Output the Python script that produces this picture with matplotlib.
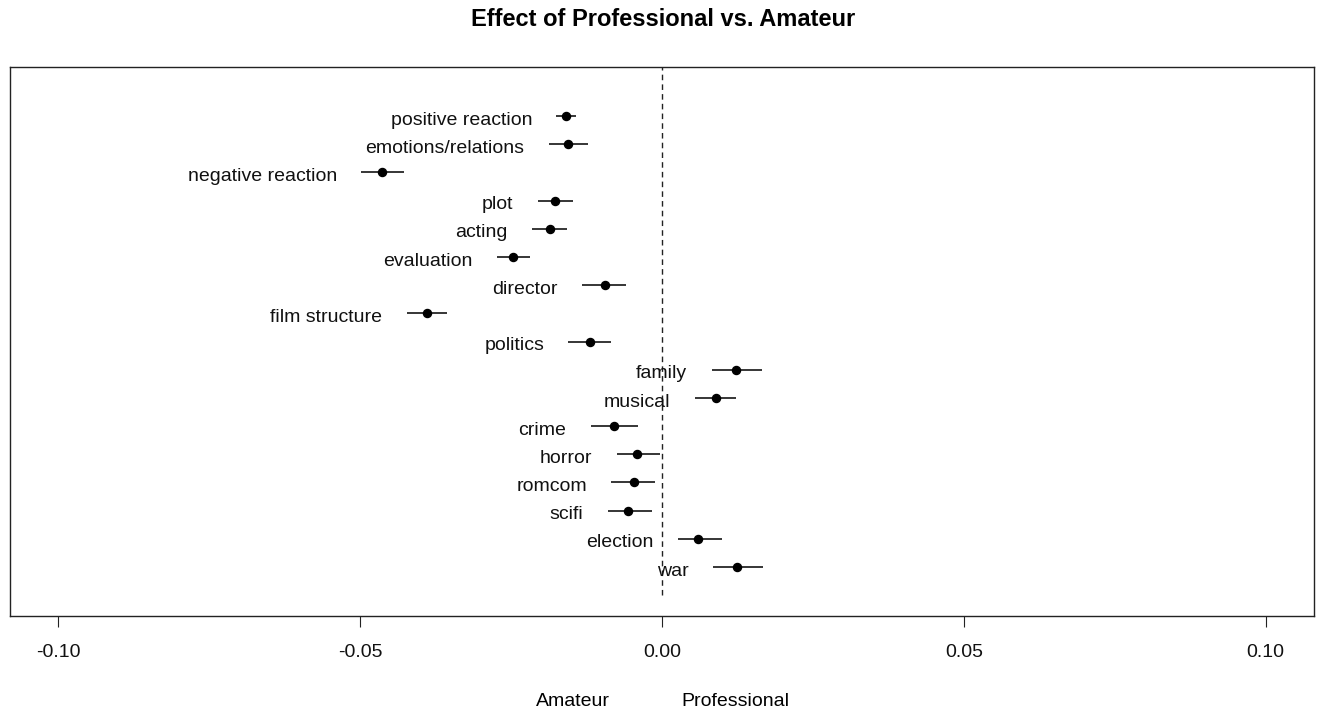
import matplotlib
matplotlib.use("Agg")
import matplotlib.pyplot as plt

plt.rcParams['font.family'] = ['Liberation Sans', 'DejaVu Sans']

categories = ["positive reaction", "emotions/relations", "negative reaction", "plot",
              "acting", "evaluation", "director", "film structure", "politics",
              "family", "musical", "crime", "horror", "romcom", "scifi",
              "election", "war"]
estimate = [-0.0159, -0.0156, -0.0463, -0.0178, -0.0186, -0.0246, -0.0095, -0.0390,
            -0.0120, 0.0123, 0.0089, -0.0080, -0.0041, -0.0047, -0.0056, 0.0060, 0.0125]
lower = [-0.0175, -0.0188, -0.0498, -0.0206, -0.0215, -0.0274, -0.0132, -0.0423,
         -0.0155, 0.0082, 0.0054, -0.0118, -0.0075, -0.0084, -0.0090, 0.0026, 0.0084]
upper = [-0.0143, -0.0122, -0.0427, -0.0148, -0.0158, -0.0218, -0.0059, -0.0356,
         -0.0085, 0.0165, 0.0123, -0.0039, -0.0003, -0.0011, -0.0016, 0.0099, 0.0168]
xticks = [-0.10, -0.05, 0.00, 0.05, 0.10]
xtick_labels = ["-0.10", "-0.05", "0.00", "0.05", "0.10"]
title = "Effect of Professional vs. Amateur"

W, H = 1319, 715
fig = plt.figure(figsize=(W / 100, H / 100), dpi=100)
ax = fig.add_axes([10 / W, (H - 616) / H, 1304 / W, 549 / H])

n = len(categories)
ys = [n - i for i in range(n)]

ax.vlines(0, 0, n + 1.74, colors='#222222', linestyles=(0, (4, 3)), linewidth=1.0, zorder=1)
ax.hlines(ys, lower, upper, colors='black', linewidth=1.1, zorder=2)
ax.plot(estimate, ys, 'o', color='black', markersize=5.8, zorder=3)

for lab, lo, y in zip(categories, lower, ys):
    ax.annotate(lab, xy=(lo, y), xytext=(-17.5, -3.0), textcoords='offset points',
                ha='right', va='center', fontsize=14, color='#111111')

ax.set_xlim(-0.108, 0.108)
ax.set_ylim(1 - 1.74, n + 1.74)
ax.set_yticks([])
ax.set_xticks(xticks)
ax.set_xticklabels(xtick_labels, fontsize=14)
ax.tick_params(axis='x', direction='out', length=8, width=0.8, pad=12, colors='#222222',
               labelcolor='#111111')
for sp in ax.spines.values():
    sp.set_linewidth(1.0)
    sp.set_color('#222222')

fig.text(663 / W, 1 - 20 / H, title, ha='center', va='center', fontsize=17, fontweight='bold')
fig.text(610 / W, 1 - 701 / H, "Amateur", ha='right', va='center', fontsize=14)
fig.text(681 / W, 1 - 701 / H, "Professional", ha='left', va='center', fontsize=14)

fig.savefig("out.png", dpi=100)
